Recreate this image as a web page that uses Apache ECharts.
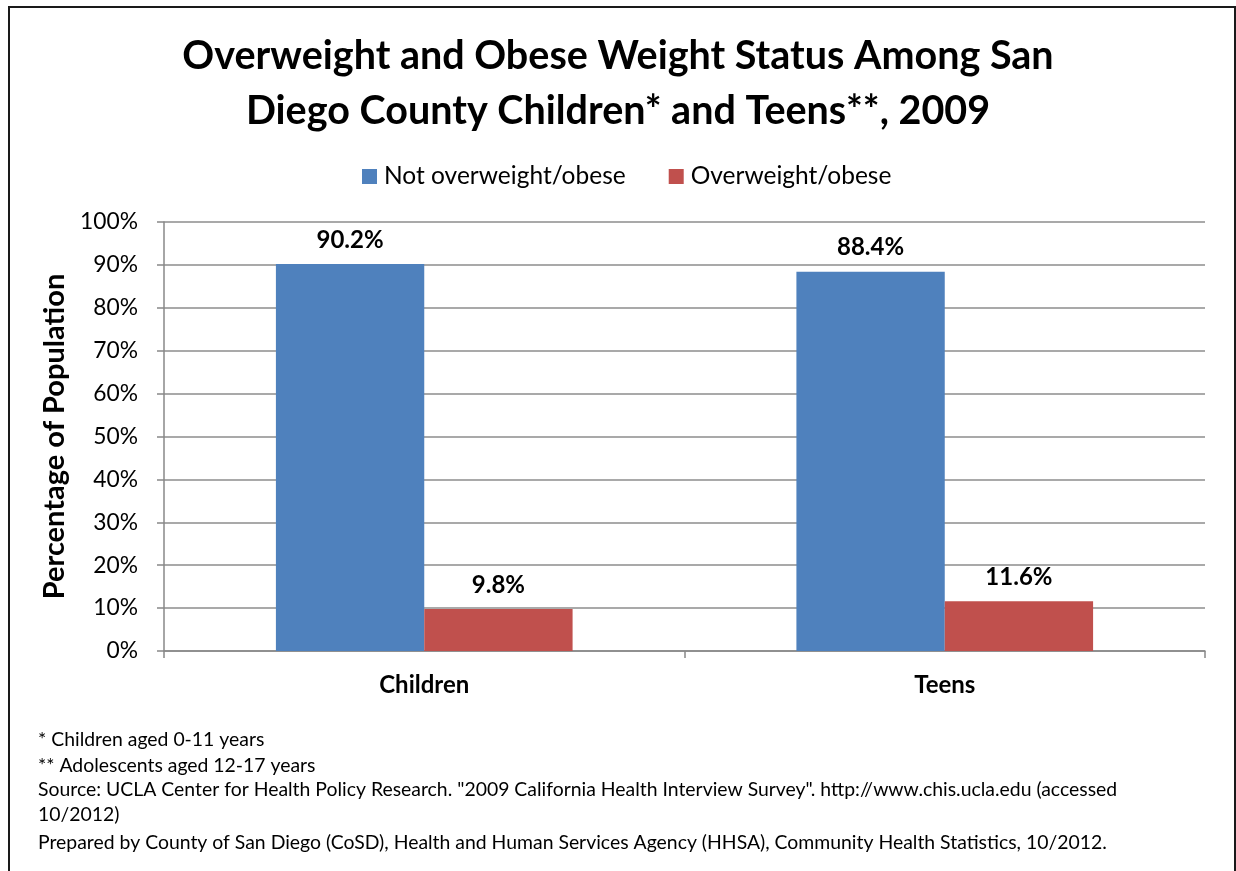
<!DOCTYPE html>
<html>
<head>
<meta charset="utf-8">
<script src="https://cdn.jsdelivr.net/npm/echarts@6/dist/echarts.min.js"></script>
<style>
  html, body { margin: 0; padding: 0; background: #fff; }
  #chart { width: 1236px; height: 871px; }
</style>
</head>
<body>
<div id="chart"></div>
<script>
// Weight status shares by age group (percent of population)
const categories = ['Children', 'Teens'];
const seriesNames = ['Not overweight/obese', 'Overweight/obese'];
const notOverweight = [90.2, 88.4];
const overweight = [9.8, 11.6];
const yTicks = [0, 10, 20, 30, 40, 50, 60, 70, 80, 90, 100];

const footnotes = [
  '* Children aged 0-11 years',
  '** Adolescents aged 12-17 years',
  'Source: UCLA Center for Health Policy Research. "2009 California Health Interview Survey". http://www.chis.ucla.edu (accessed',
  '10/2012)',
  'Prepared by County of San Diego (CoSD), Health and Human Services Agency (HHSA), Community Health Statistics, 10/2012.'
];

const FONT = 'Lato, "Open Sans", sans-serif';
const chart = echarts.init(document.getElementById('chart'), null, { renderer: 'canvas' });

const labelStyle = {
  show: true,
  position: 'top',
  distance: 12,
  fontFamily: FONT,
  fontWeight: 'bold',
  fontSize: 24,
  color: '#000',
  formatter: p => p.value.toFixed(1) + '%'
};

const footTops = [730, 756, 780, 805, 833];

chart.setOption({
  animation: false,
  backgroundColor: '#fff',
  textStyle: { fontFamily: FONT },
  title: {
    text: 'Overweight and Obese Weight Status Among San\nDiego County Children* and Teens**, 2009',
    left: 'center',
    top: 24,
    textStyle: { fontFamily: FONT, fontWeight: 'bold', fontSize: 39.5, lineHeight: 55, color: '#000' }
  },
  legend: {
    data: seriesNames,
    top: 164,
    left: 362,
    icon: 'rect',
    itemWidth: 15,
    itemHeight: 15,
    itemGap: 43,
    padding: 0,
    textStyle: { fontFamily: FONT, fontSize: 24.5, color: '#000', padding: [0, 0, 0, 2] }
  },
  grid: { left: 164, right: 31, top: 222, bottom: 220, containLabel: false },
  xAxis: {
    type: 'category',
    data: categories,
    axisLine: { lineStyle: { color: '#888', width: 1.5 } },
    axisTick: { show: true, length: 7, lineStyle: { color: '#888', width: 1.5 } },
    axisLabel: { fontFamily: FONT, fontWeight: 'bold', fontSize: 24, color: '#000', margin: 22 }
  },
  yAxis: {
    type: 'value',
    min: 0,
    max: 100,
    interval: 10,
    name: 'Percentage of Population',
    nameLocation: 'middle',
    nameGap: 95,
    nameTextStyle: { fontFamily: FONT, fontWeight: 'bold', fontSize: 29, color: '#000' },
    axisLine: { show: true, lineStyle: { color: '#888', width: 1.5 } },
    axisTick: { show: true, length: 7, lineStyle: { color: '#888', width: 1.5 } },
    axisLabel: {
      fontFamily: FONT, fontSize: 22.8, color: '#000', margin: 26,
      formatter: v => (yTicks.includes(v) ? v + '%' : '')
    },
    splitLine: { show: true, lineStyle: { color: '#8c8c8c', width: 1.5 } }
  },
  series: [
    {
      name: seriesNames[0],
      type: 'bar',
      data: notOverweight,
      barGap: '0%',
      barCategoryGap: '43%',
      itemStyle: { color: '#4f81bd' },
      label: labelStyle
    },
    {
      name: seriesNames[1],
      type: 'bar',
      data: overweight,
      barGap: '0%',
      barCategoryGap: '43%',
      itemStyle: { color: '#c0504d' },
      label: labelStyle
    }
  ],
  graphic: [
    {
      type: 'rect',
      shape: { x: 9, y: 7, width: 1226, height: 900 },
      style: { fill: 'none', stroke: '#1a1a1a', lineWidth: 2 },
      silent: true
    }
  ].concat(footnotes.map((t, i) => ({
    type: 'text',
    left: 38,
    top: footTops[i],
    style: { text: t, fontFamily: FONT, fontSize: 19.4, fill: '#000' },
    silent: true
  })))
});
</script>
</body>
</html>
